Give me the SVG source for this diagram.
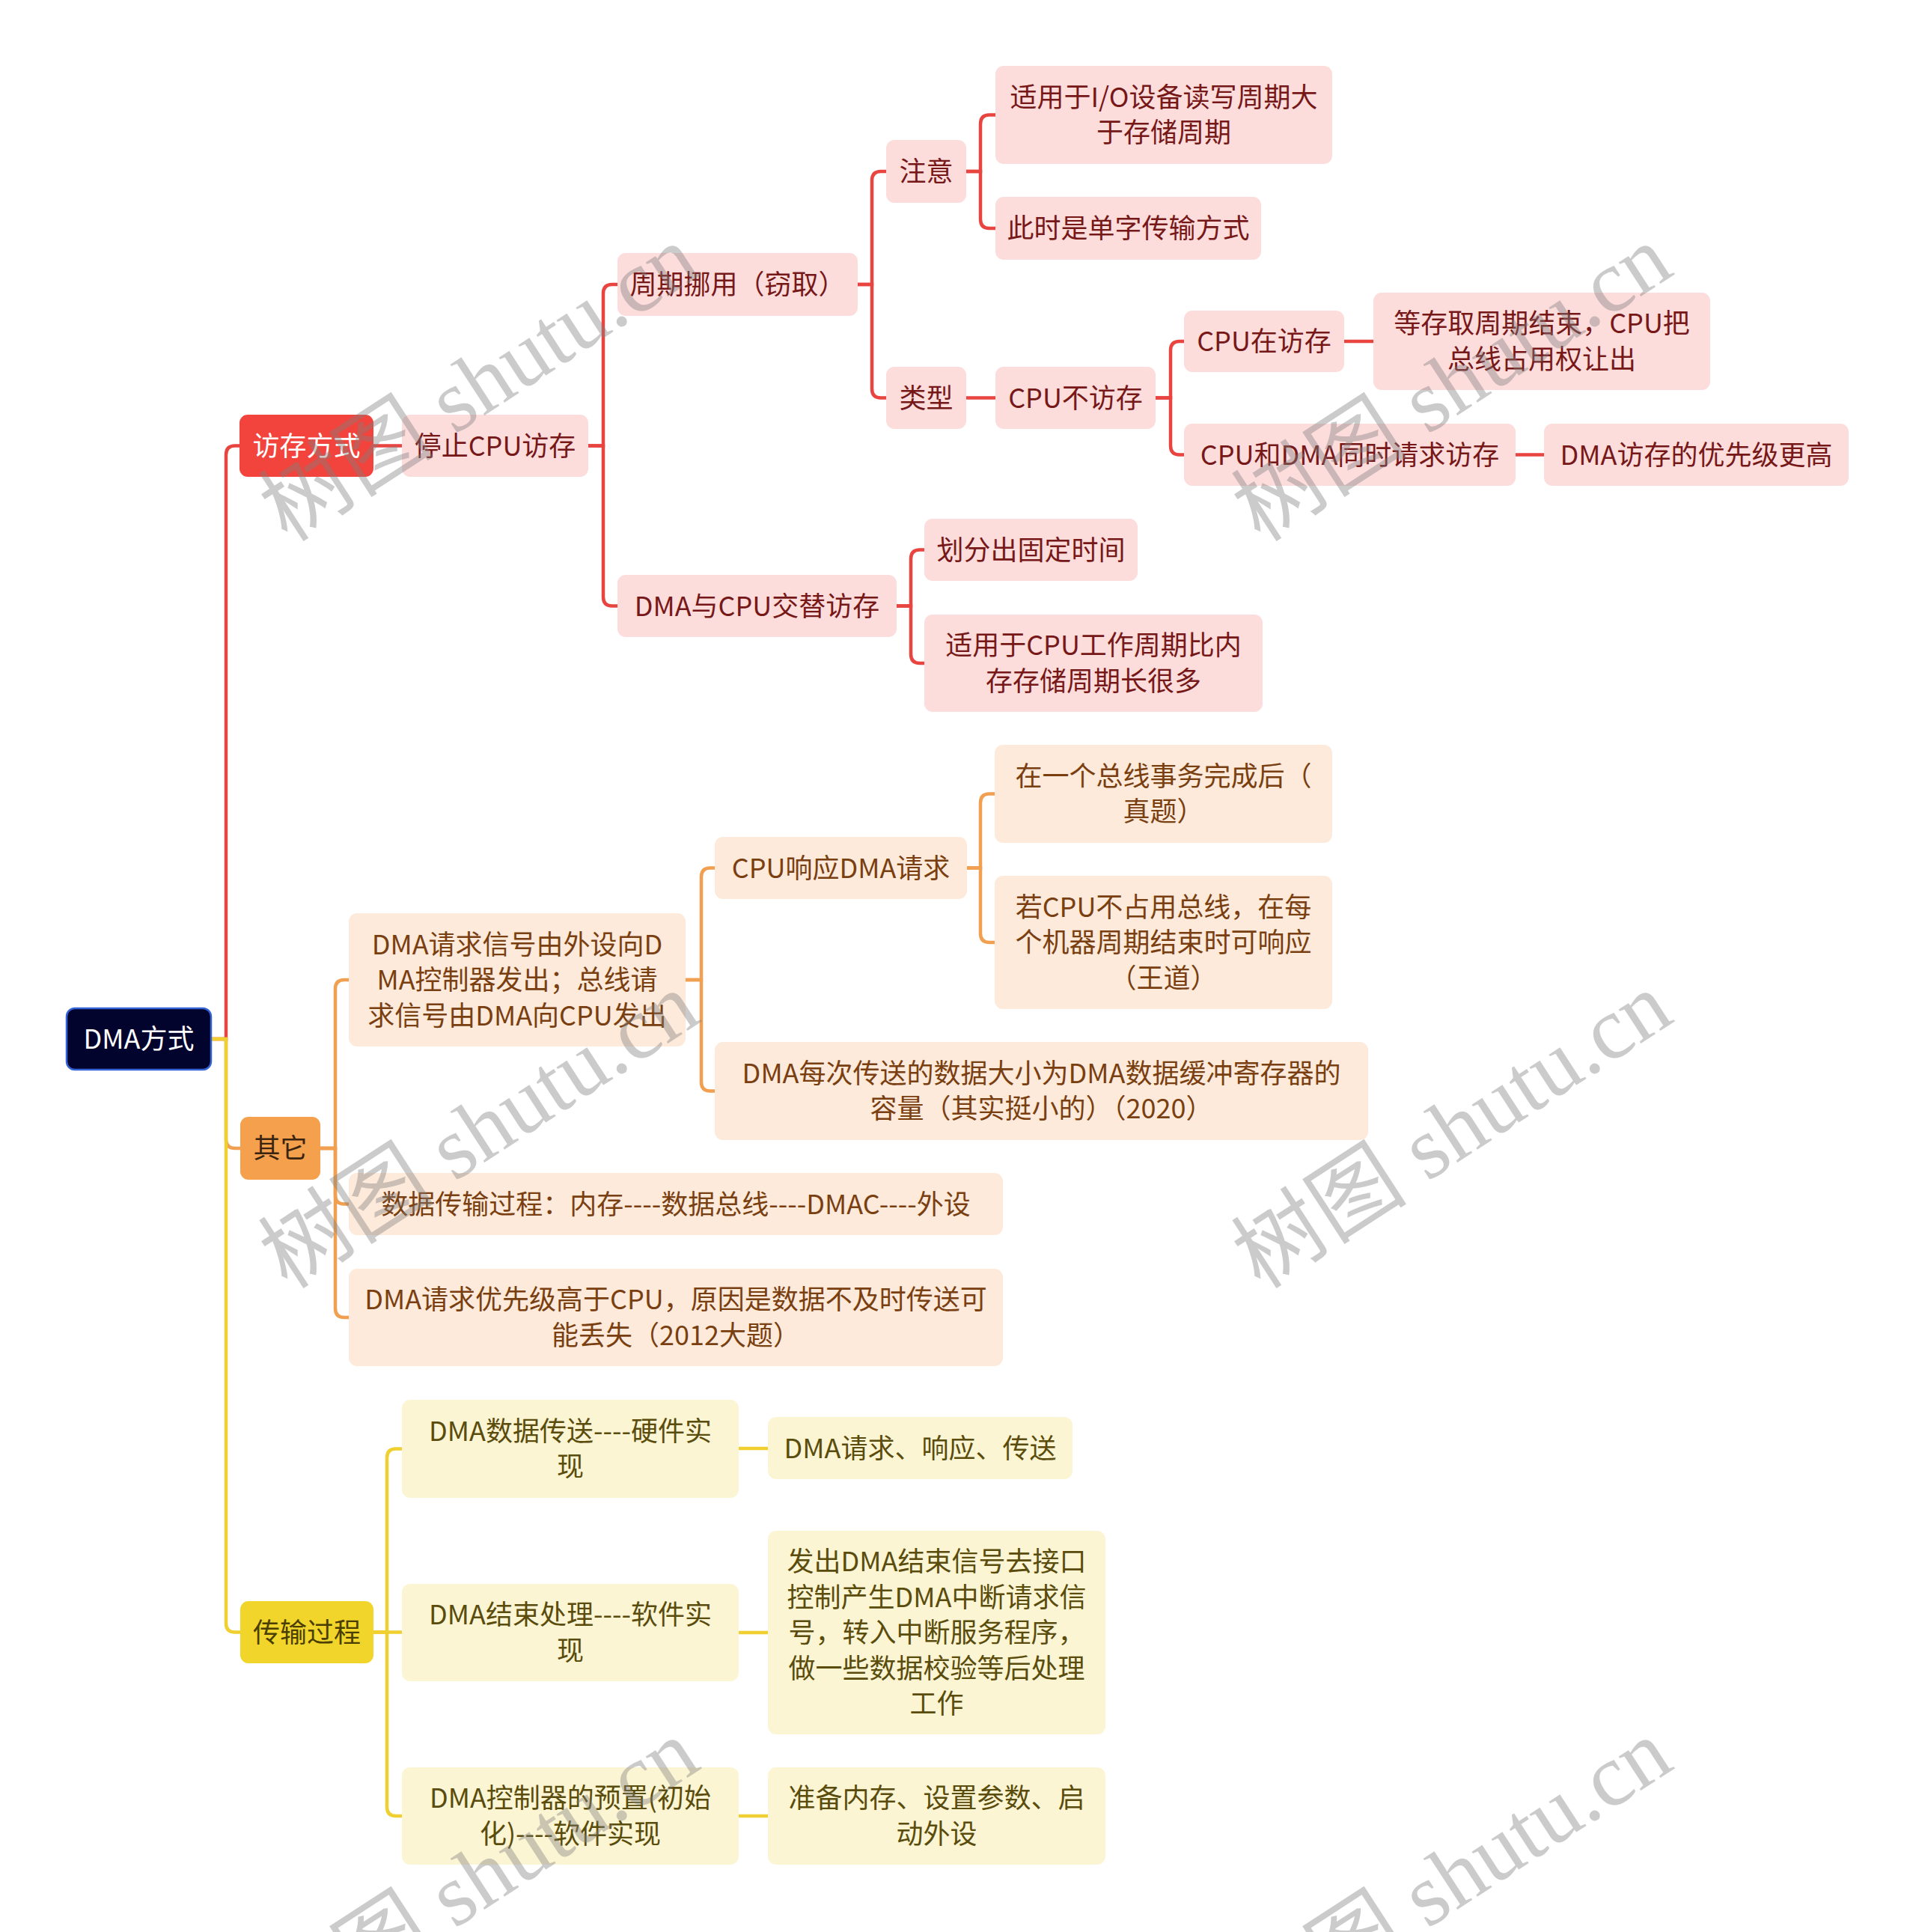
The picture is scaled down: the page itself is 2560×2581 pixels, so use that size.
<svg xmlns="http://www.w3.org/2000/svg" width="2560" height="2581" viewBox="0 0 2560 2581">
<style>
text{font-family:"Noto Sans CJK SC","Noto Sans",sans-serif;font-size:36px;text-anchor:middle}
rect{rx:11px;ry:11px}
.root rect{fill:#03042e;stroke:#3463d6;stroke-width:2.5}
.root text{fill:#ffffff}
.rm rect{fill:#f2433c}.rm text{fill:#ffffff}
.rs rect{fill:#fddcdc}.rs text{fill:#771818}
.om rect{fill:#f5a04c}.om text{fill:#3a2410}
.os rect{fill:#fdeadb}.os text{fill:#7a3f10}
.ym rect{fill:#f2d52b}.ym text{fill:#4a3e00}
.ys rect{fill:#fcf5d3}.ys text{fill:#5a4c0c}
#connectors path{fill:none;stroke-width:4.5;stroke-linecap:butt}
.cr{stroke:#e94540}.co{stroke:#f0a050}.cy{stroke:#f0d030}
.wm{font-family:"Liberation Serif","Noto Sans CJK SC",serif;font-size:118px;fill:#7f7f7f;opacity:0.4}
</style>
<rect x="0" y="0" width="2560" height="2581" fill="#ffffff" style="rx:0;ry:0"/>
<g id="connectors">
<path class="cr" d="M499 595.5 H537"/>
<path class="cr" d="M786 595.5 H806 V392 Q806 380 818 380 H825"/>
<path class="cr" d="M786 595.5 H806 V797.5 Q806 809.5 818 809.5 H825"/>
<path class="cr" d="M1146 380 H1165 V241 Q1165 229 1177 229 H1184"/>
<path class="cr" d="M1146 380 H1165 V519.5 Q1165 531.5 1177 531.5 H1184"/>
<path class="cr" d="M1291 229 H1310 V165.5 Q1310 153.5 1322 153.5 H1330"/>
<path class="cr" d="M1291 229 H1310 V293 Q1310 305 1322 305 H1330"/>
<path class="cr" d="M1291 531.5 H1330"/>
<path class="cr" d="M1544 531.5 H1564 V468 Q1564 456 1576 456 H1582"/>
<path class="cr" d="M1544 531.5 H1564 V595.5 Q1564 607.5 1576 607.5 H1582"/>
<path class="cr" d="M1796 456 H1835"/>
<path class="cr" d="M2025 607.5 H2063"/>
<path class="cr" d="M1198 809.5 H1217 V746.5 Q1217 734.5 1229 734.5 H1235"/>
<path class="cr" d="M1198 809.5 H1217 V874 Q1217 886 1229 886 H1235"/>
<path class="co" d="M428 1534 H448 V1321 Q448 1309 460 1309 H466"/>
<path class="co" d="M428 1534 H448 V1596.5 Q448 1608.5 460 1608.5 H466"/>
<path class="co" d="M428 1534 H448 V1748 Q448 1760 460 1760 H466"/>
<path class="co" d="M916 1309 H937 V1171.5 Q937 1159.5 949 1159.5 H955"/>
<path class="co" d="M916 1309 H937 V1445.5 Q937 1457.5 949 1457.5 H955"/>
<path class="co" d="M1292 1159.5 H1310 V1072.5 Q1310 1060.5 1322 1060.5 H1329"/>
<path class="co" d="M1292 1159.5 H1310 V1247 Q1310 1259 1322 1259 H1329"/>
<path class="cy" d="M499 2180.5 H517 V1947.5 Q517 1935.5 529 1935.5 H537"/>
<path class="cy" d="M499 2180.5 H537"/>
<path class="cy" d="M499 2180.5 H517 V2414 Q517 2426 529 2426 H537"/>
<path class="cy" d="M987 1935 H1026"/>
<path class="cy" d="M987 2181 H1026"/>
<path class="cy" d="M987 2426 H1026"/>
<path class="cr" d="M282 1388 H302 V607.5 Q302 595.5 314 595.5 H320"/>
<path class="co" d="M282 1388 H302 V1522 Q302 1534 314 1534 H321"/>
<path class="cy" d="M282 1388 H302 V2168.5 Q302 2180.5 314 2180.5 H321"/>
</g>
<g id="root" class="root"><rect x="89" y="1347" width="193" height="82"/><text x="185.5" y="1401">DMA方式</text></g>
<g id="n1" class="rm"><rect x="320" y="554" width="179" height="83"/><text x="409.5" y="608.5">访存方式</text></g>
<g id="n2" class="rs"><rect x="537" y="554" width="249" height="83"/><text x="661.5" y="608.5">停止CPU访存</text></g>
<g id="n3" class="rs"><rect x="825" y="338" width="321" height="84"/><text x="985.5" y="393">周期挪用（窃取）</text></g>
<g id="n4" class="rs"><rect x="825" y="768" width="373" height="83"/><text x="1011.5" y="822.5">DMA与CPU交替访存</text></g>
<g id="n5" class="rs"><rect x="1184" y="187" width="107" height="84"/><text x="1237.5" y="242">注意</text></g>
<g id="n6" class="rs"><rect x="1184" y="490" width="107" height="83"/><text x="1237.5" y="544.5">类型</text></g>
<g id="n7" class="rs"><rect x="1330" y="88" width="450" height="131"/><text><tspan x="1555" y="142.75">适用于I/O设备读写周期大</tspan><tspan x="1555" y="190.25">于存储周期</tspan></text></g>
<g id="n8" class="rs"><rect x="1330" y="263" width="355" height="84"/><text x="1507.5" y="318">此时是单字传输方式</text></g>
<g id="n9" class="rs"><rect x="1330" y="490" width="214" height="83"/><text x="1437" y="544.5">CPU不访存</text></g>
<g id="n10" class="rs"><rect x="1582" y="415" width="214" height="82"/><text x="1689" y="469">CPU在访存</text></g>
<g id="n11" class="rs"><rect x="1835" y="391" width="450" height="130"/><text><tspan x="2060" y="445.25">等存取周期结束，CPU把</tspan><tspan x="2060" y="492.75">总线占用权让出</tspan></text></g>
<g id="n12" class="rs"><rect x="1582" y="566" width="443" height="83"/><text x="1803.5" y="620.5">CPU和DMA同时请求访存</text></g>
<g id="n13" class="rs"><rect x="2063" y="566" width="407" height="83"/><text x="2266.5" y="620.5">DMA访存的优先级更高</text></g>
<g id="n14" class="rs"><rect x="1235" y="693" width="285" height="83"/><text x="1377.5" y="747.5">划分出固定时间</text></g>
<g id="n15" class="rs"><rect x="1235" y="821" width="452" height="130"/><text><tspan x="1461" y="875.25">适用于CPU工作周期比内</tspan><tspan x="1461" y="922.75">存存储周期长很多</tspan></text></g>
<g id="n16" class="om"><rect x="321" y="1492" width="107" height="84"/><text x="374.5" y="1547">其它</text></g>
<g id="n17" class="os"><rect x="466" y="1220" width="450" height="178"/><text><tspan x="691" y="1274.5">DMA请求信号由外设向D</tspan><tspan x="691" y="1322">MA控制器发出；总线请</tspan><tspan x="691" y="1369.5">求信号由DMA向CPU发出</tspan></text></g>
<g id="n18" class="os"><rect x="955" y="1118" width="337" height="83"/><text x="1123.5" y="1172.5">CPU响应DMA请求</text></g>
<g id="n19" class="os"><rect x="1329" y="995" width="451" height="131"/><text><tspan x="1554.5" y="1049.75">在一个总线事务完成后（</tspan><tspan x="1554.5" y="1097.25">真题）</tspan></text></g>
<g id="n20" class="os"><rect x="1329" y="1170" width="451" height="178"/><text><tspan x="1554.5" y="1224.5">若CPU不占用总线，在每</tspan><tspan x="1554.5" y="1272">个机器周期结束时可响应</tspan><tspan x="1554.5" y="1319.5">（王道）</tspan></text></g>
<g id="n21" class="os"><rect x="955" y="1392" width="873" height="131"/><text><tspan x="1391.5" y="1446.75">DMA每次传送的数据大小为DMA数据缓冲寄存器的</tspan><tspan x="1391.5" y="1494.25">容量（其实挺小的）（2020）</tspan></text></g>
<g id="n22" class="os"><rect x="466" y="1567" width="874" height="83"/><text x="903" y="1621.5">数据传输过程：内存----数据总线----DMAC----外设</text></g>
<g id="n23" class="os"><rect x="466" y="1695" width="874" height="130"/><text><tspan x="903" y="1749.25">DMA请求优先级高于CPU，原因是数据不及时传送可</tspan><tspan x="903" y="1796.75">能丢失（2012大题）</tspan></text></g>
<g id="n24" class="ym"><rect x="321" y="2139" width="178" height="83"/><text x="410" y="2193.5">传输过程</text></g>
<g id="n25" class="ys"><rect x="537" y="1870" width="450" height="131"/><text><tspan x="762" y="1924.75">DMA数据传送----硬件实</tspan><tspan x="762" y="1972.25">现</tspan></text></g>
<g id="n26" class="ys"><rect x="1026" y="1893" width="407" height="83"/><text x="1229.5" y="1947.5">DMA请求、响应、传送</text></g>
<g id="n27" class="ys"><rect x="537" y="2116" width="450" height="130"/><text><tspan x="762" y="2170.25">DMA结束处理----软件实</tspan><tspan x="762" y="2217.75">现</tspan></text></g>
<g id="n28" class="ys"><rect x="1026" y="2045" width="451" height="272"/><text><tspan x="1251.5" y="2099">发出DMA结束信号去接口</tspan><tspan x="1251.5" y="2146.5">控制产生DMA中断请求信</tspan><tspan x="1251.5" y="2194">号，转入中断服务程序，</tspan><tspan x="1251.5" y="2241.5">做一些数据校验等后处理</tspan><tspan x="1251.5" y="2289">工作</tspan></text></g>
<g id="n29" class="ys"><rect x="537" y="2361" width="450" height="130"/><text><tspan x="762" y="2415.25">DMA控制器的预置(初始</tspan><tspan x="762" y="2462.75">化)----软件实现</tspan></text></g>
<g id="n30" class="ys"><rect x="1026" y="2361" width="451" height="130"/><text><tspan x="1251.5" y="2415.25">准备内存、设置参数、启</tspan><tspan x="1251.5" y="2462.75">动外设</tspan></text></g>
<g id="watermarks">
<text class="wm" transform="translate(640,512) rotate(-33)" x="0" y="40">树图 shutu.cn</text>
<text class="wm" transform="translate(1940,512) rotate(-33)" x="0" y="40">树图 shutu.cn</text>
<text class="wm" transform="translate(640,1510) rotate(-33)" x="0" y="40">树图 shutu.cn</text>
<text class="wm" transform="translate(1940,1510) rotate(-33)" x="0" y="40">树图 shutu.cn</text>
<text class="wm" transform="translate(640,2508) rotate(-33)" x="0" y="40">树图 shutu.cn</text>
<text class="wm" transform="translate(1940,2508) rotate(-33)" x="0" y="40">树图 shutu.cn</text>
</g>
</svg>
